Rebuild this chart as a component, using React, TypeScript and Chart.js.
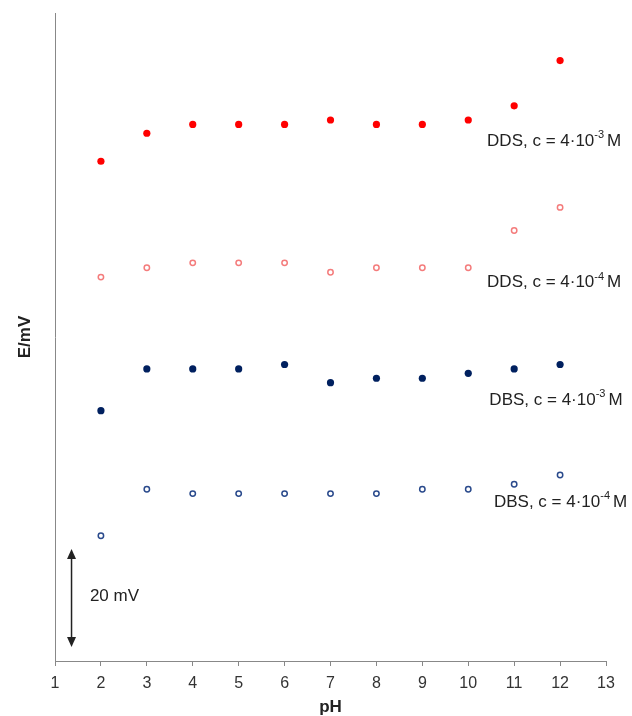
import React, { useEffect, useRef } from "react";
import { Chart, registerables } from "chart.js";

Chart.register(...registerables);

// ---- data ----
const PH = [2, 3, 4, 5, 6, 7, 8, 9, 10, 11, 12];
const DDS_3 = [101.8, 107.5, 109.3, 109.3, 109.3, 110.2, 109.3, 109.3, 110.2, 113.1, 122.3];
const DDS_4 = [78.2, 80.1, 81.1, 81.1, 81.1, 79.2, 80.1, 80.1, 80.1, 87.7, 92.4];
const DBS_3 = [51.0, 59.5, 59.5, 59.5, 60.4, 56.7, 57.6, 57.6, 58.6, 59.5, 60.4];
const DBS_4 = [25.5, 35.0, 34.1, 34.1, 34.1, 34.1, 34.1, 35.0, 35.0, 36.0, 37.9];

const X_MIN = 1;
const X_MAX = 13;
const Y_MIN = 0;
const Y_MAX = 132;

// series annotation labels: name, exponent, anchor (pH, E)
const LABEL_NAMES = ["DDS", "DDS", "DBS", "DBS"];
const LABEL_EXP = ["-3", "-4", "-3", "-4"];
const LABEL_PH = [10.41, 10.41, 10.46, 10.56];
const LABEL_E = [105.9, 77.1, 53.2, 32.4];

// 20 mV scale arrow
const ARROW_PH = 1.36;
const ARROW_E = [2.85, 22.8];
const ARROW_TEXT = "20 mV";
const ARROW_TEXT_PH = 1.76;
const ARROW_TEXT_E = 13.2;

const FONT = "'Liberation Sans', Arial, sans-serif";

const toXY = (vals: number[]) => PH.map((x, i) => ({ x, y: vals[i] }));

const annotationPlugin = {
  id: "annotations",
  afterDatasetsDraw(chart: any) {
    const { ctx, scales } = chart;
    const xs = scales.x;
    const ys = scales.y;
    ctx.save();
    ctx.fillStyle = "#222";
    ctx.textBaseline = "middle";
    ctx.textAlign = "left";
    for (let i = 0; i < LABEL_NAMES.length; i++) {
      let px = xs.getPixelForValue(LABEL_PH[i]);
      const py = ys.getPixelForValue(LABEL_E[i]);
      const base = LABEL_NAMES[i] + ", c = 4\u00b710";
      ctx.font = `17px ${FONT}`;
      ctx.fillText(base, px, py);
      px += ctx.measureText(base).width;
      ctx.font = `11px ${FONT}`;
      ctx.fillText(LABEL_EXP[i], px, py - 6);
      px += ctx.measureText(LABEL_EXP[i]).width + 3;
      ctx.font = `17px ${FONT}`;
      ctx.fillText("M", px, py);
    }
    // arrow
    const ax = xs.getPixelForValue(ARROW_PH);
    const y1 = ys.getPixelForValue(ARROW_E[1]);
    const y0 = ys.getPixelForValue(ARROW_E[0]);
    ctx.strokeStyle = "#222";
    ctx.lineWidth = 1.5;
    ctx.beginPath();
    ctx.moveTo(ax, y1 + 6);
    ctx.lineTo(ax, y0 - 6);
    ctx.stroke();
    ctx.beginPath();
    ctx.moveTo(ax, y1);
    ctx.lineTo(ax - 4.5, y1 + 10);
    ctx.lineTo(ax + 4.5, y1 + 10);
    ctx.closePath();
    ctx.fill();
    ctx.beginPath();
    ctx.moveTo(ax, y0);
    ctx.lineTo(ax - 4.5, y0 - 10);
    ctx.lineTo(ax + 4.5, y0 - 10);
    ctx.closePath();
    ctx.fill();
    ctx.font = `17px ${FONT}`;
    ctx.fillText(ARROW_TEXT, xs.getPixelForValue(ARROW_TEXT_PH), ys.getPixelForValue(ARROW_TEXT_E));
    ctx.restore();
  },
};

export default function App() {
  const ref = useRef<HTMLCanvasElement | null>(null);

  useEffect(() => {
    if (!ref.current) return;
    const filled = (color: string) => ({
      pointRadius: 3.6,
      pointBorderWidth: 0,
      pointBackgroundColor: color,
      pointBorderColor: color,
    });
    const open = (color: string) => ({
      pointRadius: 2.7,
      pointBorderWidth: 1.5,
      pointBackgroundColor: "#ffffff",
      pointBorderColor: color,
    });
    const chart = new Chart(ref.current, {
      type: "scatter",
      data: {
        datasets: [
          { label: "DDS 4e-3", data: toXY(DDS_3), ...filled("#ff0000") },
          { label: "DDS 4e-4", data: toXY(DDS_4), ...open("#f47c7c") },
          { label: "DBS 4e-3", data: toXY(DBS_3), ...filled("#00205f") },
          { label: "DBS 4e-4", data: toXY(DBS_4), ...open("#2a4a8c") },
        ],
      },
      options: {
        responsive: false,
        animation: false,
        layout: { padding: { left: 0, top: 13, right: 26, bottom: 0 } },
        plugins: { legend: { display: false }, tooltip: { enabled: false } },
        scales: {
          x: {
            type: "linear",
            min: X_MIN,
            max: X_MAX,
            afterFit: (s: any) => {
              s.height = 55;
            },
            ticks: {
              stepSize: 1,
              color: "#333",
              padding: 8,
              font: { family: FONT, size: 16 },
            },
            grid: {
              display: true,
              drawOnChartArea: false,
              drawTicks: true,
              tickLength: 5,
              color: "#888",
            },
            border: { display: true, color: "#888", width: 1 },
            title: {
              display: true,
              text: "pH",
              color: "#222",
              padding: { top: 0, bottom: 0 },
              font: { family: FONT, size: 17, weight: "bold", lineHeight: 1 },
            },
          },
          y: {
            type: "linear",
            min: Y_MIN,
            max: Y_MAX,
            afterFit: (s: any) => {
              s.width = 55;
            },
            ticks: { display: false },
            grid: { display: false },
            border: { display: true, color: "#888", width: 1 },
            title: {
              display: true,
              text: "E/mV",
              color: "#222",
              padding: { top: 17, bottom: 0 },
              font: { family: FONT, size: 17, weight: "bold", lineHeight: 1 },
            },
          },
        },
      },
      plugins: [annotationPlugin],
    });
    return () => chart.destroy();
  }, []);

  return (
    <div style={{ position: "fixed", left: 0, top: 0, width: 632, height: 716, background: "#fff" }}>
      <canvas ref={ref} width={632} height={716} />
    </div>
  );
}
